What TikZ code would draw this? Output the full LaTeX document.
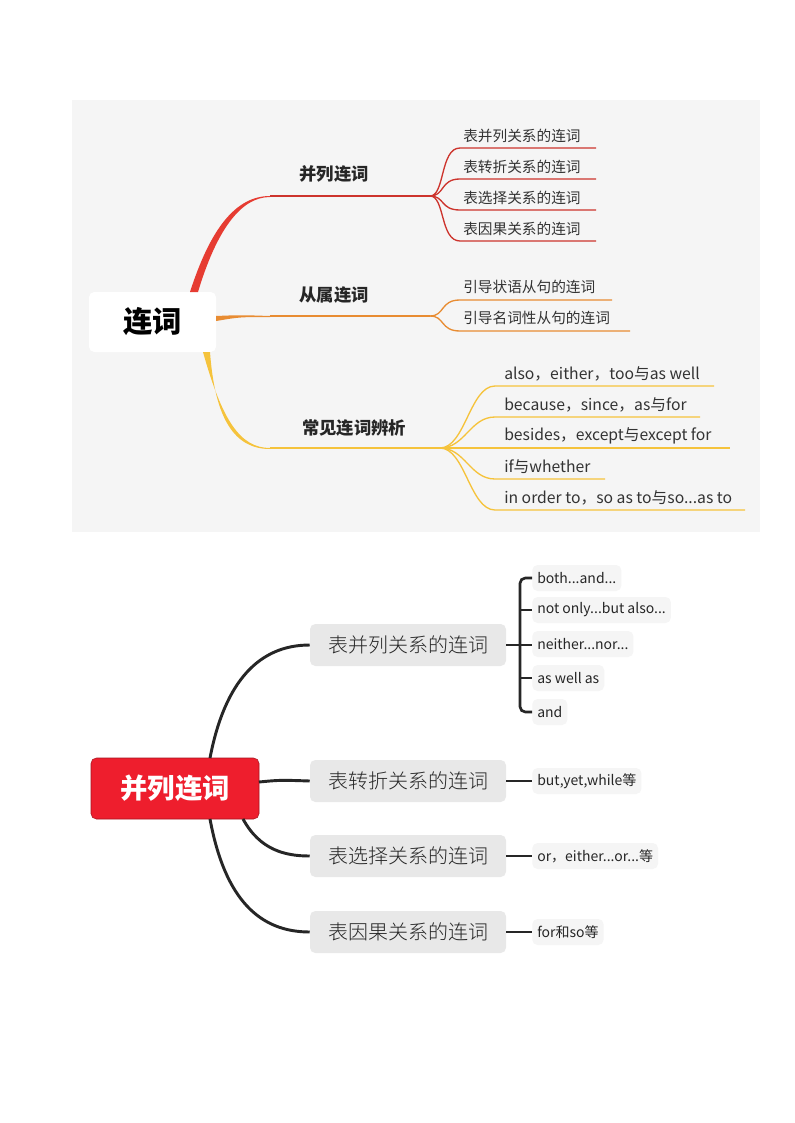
\documentclass[tikz,border=0pt]{standalone}
\usepackage{fontspec}
\setmainfont{Noto Sans CJK SC}
\newfontfamily\lightf{Noto Sans CJK SC Light}
\definecolor{cred}{RGB}{205,52,45}
\definecolor{cfill}{RGB}{230,60,50}
\definecolor{corg}{RGB}{232,140,50}
\definecolor{cyel}{RGB}{245,195,60}
\definecolor{proot}{RGB}{238,30,45}
\begin{document}
\begin{tikzpicture}[x=0.75pt,y=-0.75pt,
  rb/.style={draw=cred,line width=1pt},
  ob/.style={draw=corg,line width=1pt},
  yb/.style={draw=cyel,line width=1pt},
  lbl/.style={anchor=west,font=\fontsize{11}{12}\selectfont,text=black!80,inner sep=0},
  ylbl/.style={anchor=west,font=\fontsize{11.8}{13}\selectfont,text=black!80,inner sep=0},
  mid/.style={font=\fontsize{13}{15}\bfseries\selectfont,text=black!85},
  bk/.style={draw=black!85,line width=2.2pt},
  midbox/.style={fill=black!9,rounded corners=4pt,minimum width=196*0.75pt,minimum height=42*0.75pt,font=\lightf\fontsize{15}{17}\selectfont,text=black!85,inner sep=0},
  leaf/.style={fill=black!4,rounded corners=4pt,minimum height=26*0.75pt,anchor=west,font=\fontsize{10.5}{12}\selectfont,text=black!85,inner xsep=5*0.75pt}]
\useasboundingbox (0,0) rectangle (794,1123);
\fill[white] (0,0) rectangle (794,1123);
\fill[black!4] (72,100) rectangle (760,532);
% top
\node[fill=white,rounded corners=4pt,minimum width=127*0.75pt,minimum height=60*0.75pt,font=\fontsize{22}{24}\bfseries\selectfont] (R) at (152.5,322) {连词};
\coordinate (a0) at (270,196); \coordinate (a1) at (430,196);
\coordinate (b0) at (270,316); \coordinate (b1) at (430,316);
\coordinate (c0) at (270,448); \coordinate (c1) at (440,448);
\fill[cfill] (190,292) .. controls (210,230) and (235,196) .. (a0) -- (270,197) .. controls (240,197) and (216,232) .. (198,292) -- cycle;
\fill[corg] (216,316) .. controls (240,315) .. (b0) -- (270,317) .. controls (240,317) .. (216,321) -- cycle;
\fill[cyel] (203,352) .. controls (222,420) and (240,448) .. (c0) -- (270,449) .. controls (235,449) and (215,420) .. (210,352) -- cycle;
\draw[rb] (a0) -- (a1); \draw[ob] (b0) -- (b1); \draw[yb] (c0) -- (c1);
\node[mid] (A) at (334,174) {并列连词};
\node[mid] (B) at (334,295) {从属连词};
\node[mid] (C) at (354,428) {常见连词辨析};
\foreach \y/\t [count=\i] in {148/表并列关系的连词,179/表转折关系的连词,210/表选择关系的连词,241/表因果关系的连词}{
  \draw[rb] (a1) .. controls (445,196) and (440,\y) .. (460,\y) -- (596,\y);
  \node[lbl] (a\i t) at (463,\y-12) {\t};}
\draw[ob] (b1) .. controls (445,316) and (440,300) .. (460,300) -- (612,300);
\node[lbl] (b1t) at (463,287) {引导状语从句的连词};
\draw[ob] (b1) .. controls (445,316) and (440,331) .. (460,331) -- (630,331);
\node[lbl] (b2t) at (463,318) {引导名词性从句的连词};
\foreach \y/\e/\t [count=\i] in {386/714/{also，either，too与as well},417/700/{because，since，as与for},448/730/{besides，except与except for},479/605/{if与whether},510/745/{in order to，so as to与so...as to}}{
  \draw[yb] (c1) .. controls (465,448) and (470,\y) .. (495,\y) -- (\e,\y);
  \node[ylbl] (c\i t) at (504,\y-12) {\t};}
% bottom
\node[fill=proot,draw=proot!70!black,line width=0.4pt,rounded corners=4pt,minimum width=168*0.75pt,minimum height=61*0.75pt,text=white,font=\fontsize{20.5}{22}\bfseries\selectfont] (P) at (175,788.5) {并列连词};
\node[midbox] (M1) at (408,645) {表并列关系的连词};
\node[midbox] (M2) at (408,781) {表转折关系的连词};
\node[midbox] (M3) at (408,856) {表选择关系的连词};
\node[midbox] (M4) at (408,932) {表因果关系的连词};
\draw[bk] (210,758) .. controls (225,680) and (260,645) .. (M1.west);
\draw[bk] (259,782) .. controls (280,780) .. (M2.west);
\draw[bk] (243,819) .. controls (260,850) and (285,856) .. (M3.west);
\draw[bk] (210,819) .. controls (225,900) and (260,932) .. (M4.west);
\node[leaf] (L1) at (532,578) {both...and...};
\node[leaf] (L2) at (532,610) {not only...but also...};
\node[leaf] (L3) at (532,644) {neither...nor...};
\node[leaf] (L4) at (532,678) {as well as};
\node[leaf] (L5) at (532,712) {and};
\draw[bk,line width=2pt] (M1.east) -- (532,645);
\draw[bk,line width=2pt,rounded corners=4pt] (L1.west) -- (520,578) -- (520,712) -- (L5.west);
\draw[bk,line width=2pt] (520,610) -- (L2.west);
\draw[bk,line width=2pt] (520,678) -- (L4.west);
\node[leaf] (N2) at (532,781) {but,yet,while等};
\node[leaf] (N3) at (532,856) {or，either...or...等};
\node[leaf] (N4) at (532,932) {for和so等};
\draw[bk,line width=2pt] (M2.east) -- (N2.west);
\draw[bk,line width=2pt] (M3.east) -- (N3.west);
\draw[bk,line width=2pt] (M4.east) -- (N4.west);
\end{tikzpicture}
\end{document}
